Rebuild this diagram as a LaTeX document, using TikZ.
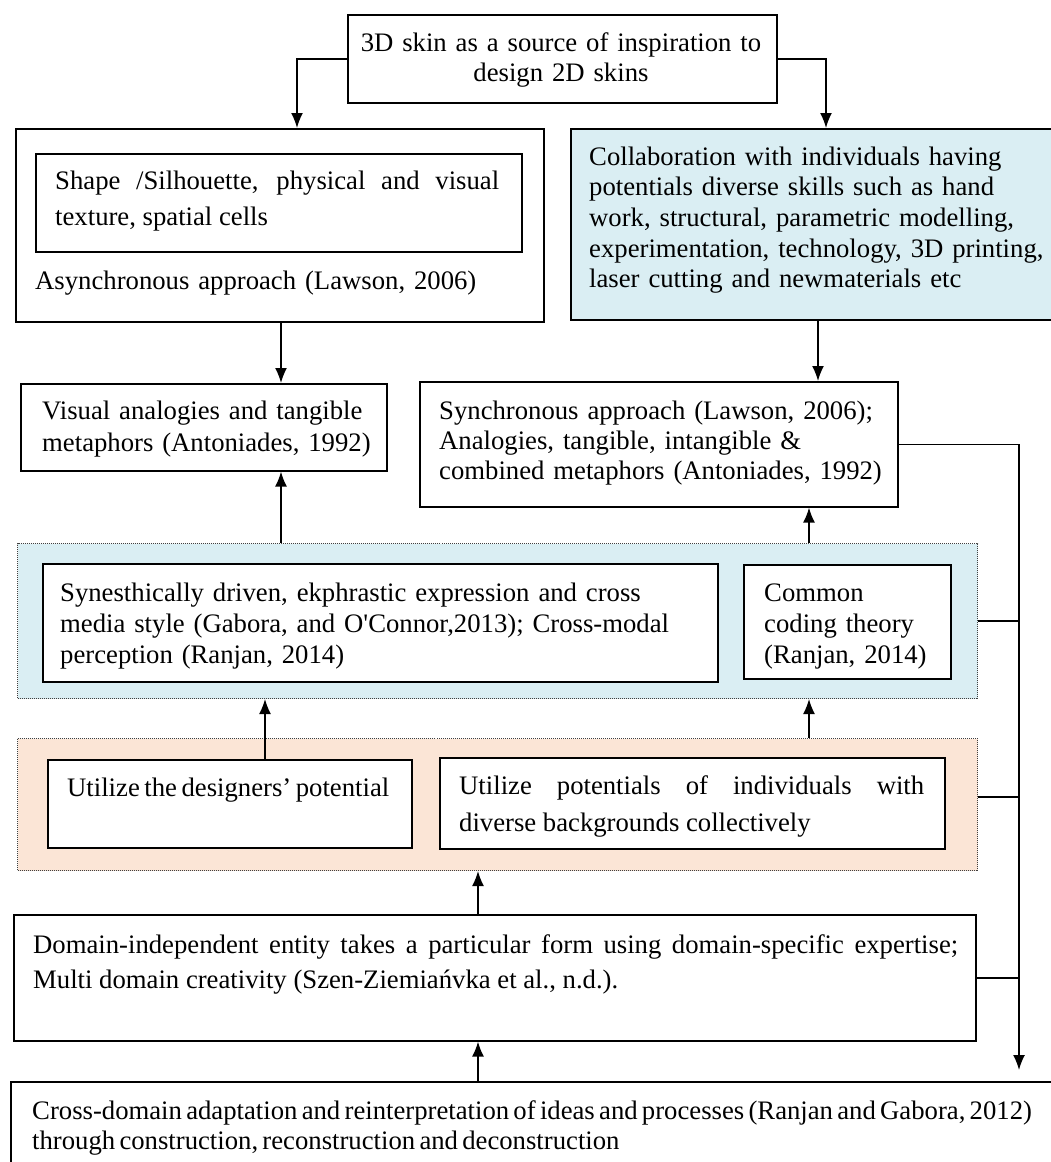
\documentclass[tikz,border=0pt]{standalone}
\usepackage{fontspec}
\setmainfont{Liberation Serif}
\usetikzlibrary{arrows.meta}
\definecolor{lblue}{HTML}{DAEEF3}
\definecolor{peach}{HTML}{FBE5D6}
\newcommand\fsz[1]{\fontsize{26.7}{#1}\selectfont}
\begin{document}
\begin{tikzpicture}[x=1pt,y=-1pt,
  box/.style={draw, line width=1.6pt, inner sep=0pt, anchor=north west, fill=white},
  grp/.style={draw=black!75, densely dotted, line width=1pt, inner sep=0pt, anchor=north west},
  txt/.style={inner sep=0pt, anchor=base west, align=left},
  arr/.style={line width=1.6pt, -{Latex[length=15pt,width=12pt]}},
  bus/.style={line width=1.8pt}]
\useasboundingbox (0,0) rectangle (1050,1162);
\fill[white] (0,0) rectangle (1050,1162);

% boxes
\node[box, minimum width=429, minimum height=88] (top) at (347,14) {};
\node[box, minimum width=528, minimum height=193] (lbox) at (15,128) {};
\node[box, minimum width=486, minimum height=98] (shape) at (35,153) {};
\node[box, fill=lblue, minimum width=482, minimum height=191] (rbox) at (570,128) {};
\node[box, minimum width=366, minimum height=87] (vis) at (20,383) {};
\node[box, minimum width=478, minimum height=125] (sync) at (419,381) {};
\node[grp, fill=lblue, minimum width=960, minimum height=155] (blue) at (17,543) {};
\node[box, minimum width=675, minimum height=118] (syn) at (42,563) {};
\node[box, minimum width=207, minimum height=114] (com) at (743,564) {};
\node[grp, fill=peach, minimum width=960, minimum height=132] (pch) at (17,738) {};
\node[box, minimum width=364, minimum height=88] (u1) at (47,759) {};
\node[box, minimum width=505, minimum height=91] (u2) at (439,757) {};
\node[box, minimum width=962, minimum height=126] (dom) at (13,914) {};
\node[box, minimum width=1042, minimum height=83] (bot) at (10,1081) {};

% texts
\node[txt, anchor=base, align=center, text width=420, font=\fsz{30}] (t-top) at (561,51)
  {3D skin as a source of inspiration to\\design 2D skins};
\node[txt, text width=444, align=justify, font=\fsz{36}] (t-shape) at (55,189)
  {Shape /Silhouette, physical and visual\linebreak texture, spatial cells};
\node[txt, text width=480, font=\fsz{31}] (t-async) at (35,289)
  {Asynchronous approach (Lawson, 2006)};
\node[txt, text width=455, font=\fsz{30.7}] (t-r) at (589,165)
  {Collaboration with individuals having\\potentials diverse skills such as hand\\work, structural, parametric modelling,\\experimentation, technology, 3D printing,\\laser cutting and newmaterials etc};
\node[txt, text width=340, font=\fsz{32}] (t-vis) at (42,419)
  {Visual analogies and tangible\\metaphors (Antoniades, 1992)};
\node[txt, text width=450, font=\fsz{30}] (t-sync) at (439,419)
  {Synchronous approach (Lawson, 2006);\\Analogies, tangible, intangible \&\\combined metaphors (Antoniades, 1992)};
\node[txt, text width=640, font=\fsz{31}] (t-syn) at (60,601)
  {Synesthically driven, ekphrastic expression and cross\\media style (Gabora, and O\textquotesingle Connor,2013); Cross-modal\\perception (Ranjan, 2014)};
\node[txt, text width=185, font=\fsz{31}] (t-com) at (764,601)
  {Common\\coding theory\\(Ranjan, 2014)};
\node[txt, text width=340, font=\fsz{31}] (t-u1) at (67,796)
  {\spaceskip=0.17em\relax Utilize the designers’ potential};
\node[txt, text width=465, align=justify, font=\fsz{37}] (t-u2) at (459,794)
  {Utilize potentials of individuals with\linebreak diverse backgrounds collectively};
\node[txt, text width=925, align=justify, font=\fsz{35}] (t-dom) at (33,953)
  {Domain-independent entity takes a particular form using domain-specific expertise;\linebreak Multi domain creativity (Szen-Ziemiańvka et al., n.d.).};
\node[txt, text width=1015, font=\fsz{30}] (t-bot) at (32,1119)
  {\spaceskip=0.16em\relax Cross-domain adaptation and reinterpretation of ideas and processes (Ranjan and Gabora, 2012)\\through construction, reconstruction and deconstruction};

% connectors
\draw[arr] (top.west) -| (297,0 |- lbox.north);
\draw[arr] (top.east) -| (826,0 |- rbox.north);
\draw[arr] (281,0 |- lbox.south) -- (281,0 |- vis.north);
\draw[arr] (818,0 |- rbox.south) -- (818,0 |- sync.north);
\draw[arr] (281,0 |- blue.north) -- (281,0 |- vis.south);
\draw[arr] (809,0 |- blue.north) -- (809,0 |- sync.south);
\draw[arr] (265,0 |- u1.north) -- (265,0 |- blue.south);
\draw[arr] (809,0 |- pch.north) -- (809,0 |- blue.south);
\draw[arr] (478,0 |- dom.north) -- (478,0 |- pch.south);
\draw[arr] (478,0 |- bot.north) -- (478,0 |- dom.south);

\coordinate (busend) at (1019,1070);
\draw[arr] (sync.east) -| (busend);
\draw[bus] (blue.east) -- (1019,0 |- blue.east);
\draw[bus] (pch.east |- 0,797) -- (1019,797);
\draw[bus] (dom.east) -- (1019,0 |- dom.east);
\end{tikzpicture}
\end{document}
